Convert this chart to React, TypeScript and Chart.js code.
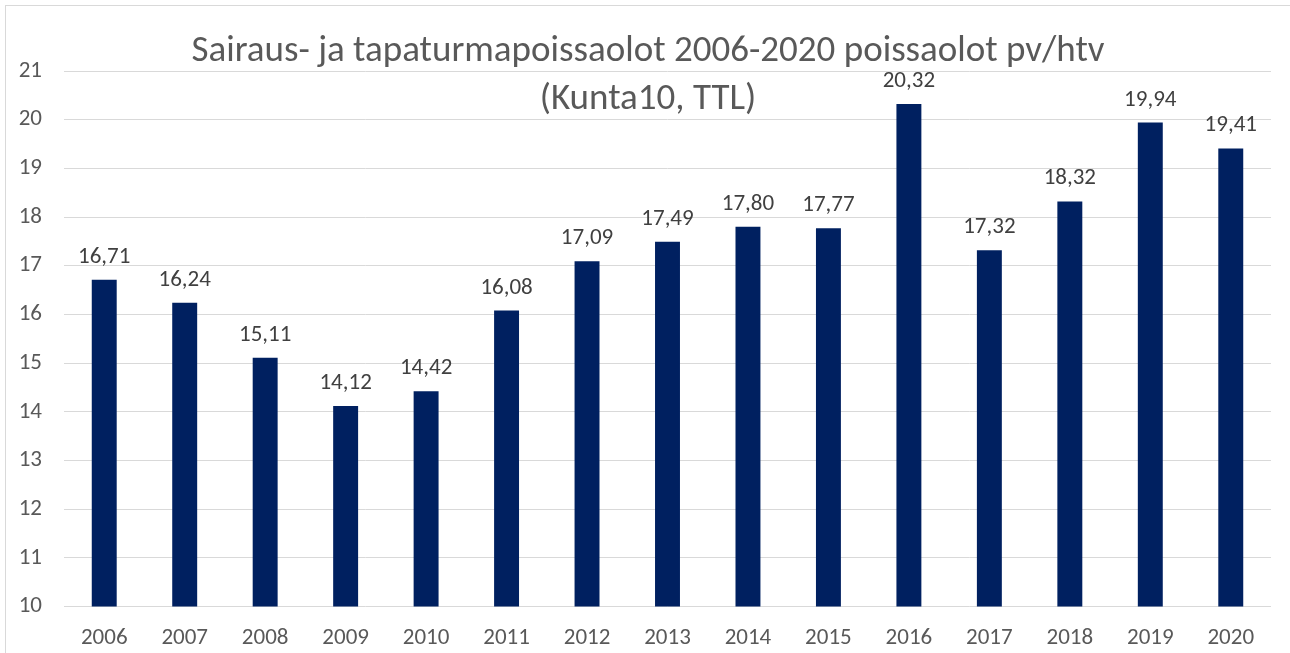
import React, { useEffect, useRef } from "react";
import { Chart, registerables } from "chart.js";

Chart.register(...registerables);

const years = ["2006", "2007", "2008", "2009", "2010", "2011", "2012", "2013", "2014", "2015", "2016", "2017", "2018", "2019", "2020"];
const absenceDays = [16.71, 16.24, 15.11, 14.12, 14.42, 16.08, 17.09, 17.49, 17.8, 17.77, 20.32, 17.32, 18.32, 19.94, 19.41];
const titleLines = ["Sairaus- ja tapaturmapoissaolot 2006-2020 poissaolot pv/htv", "(Kunta10, TTL)"];
const yMin = 10;
const yMax = 21;

const FONT = "Carlito, Lato, 'Open Sans', sans-serif";

const titlePlugin = {
  id: "excelTitle",
  afterDraw(chart: any) {
    const ctx = chart.ctx;
    ctx.save();
    ctx.fillStyle = "#595959";
    ctx.font = `300 37px ${FONT}`;
    ctx.textAlign = "center";
    ctx.textBaseline = "alphabetic";
    ctx.fillText(titleLines[0], 648, 61);
    ctx.fillText(titleLines[1], 648, 109);
    ctx.restore();
  },
};

const labelPlugin = {
  id: "valueLabels",
  afterDatasetsDraw(chart: any) {
    const ctx = chart.ctx;
    const meta = chart.getDatasetMeta(0);
    ctx.save();
    ctx.fillStyle = "#404040";
    ctx.font = `23px ${FONT}`;
    ctx.textAlign = "center";
    ctx.textBaseline = "alphabetic";
    meta.data.forEach((el: any, i: number) => {
      const v = chart.data.datasets[0].data[i] as number;
      ctx.fillText(v.toFixed(2).replace(".", ","), el.x, el.y - 17);
    });
    ctx.restore();
  },
};

export default function App() {
  const ref = useRef<HTMLCanvasElement | null>(null);

  useEffect(() => {
    if (!ref.current) return;
    const chart = new Chart(ref.current, {
      type: "bar",
      data: {
        labels: years,
        datasets: [
          {
            data: absenceDays,
            backgroundColor: "#002060",
            borderWidth: 0,
            barPercentage: 0.31,
            categoryPercentage: 1,
          },
        ],
      },
      options: {
        responsive: false,
        animation: false,
        devicePixelRatio: 1,
        layout: { padding: { left: 0, right: 19, top: 71, bottom: 0 } },
        plugins: {
          legend: { display: false },
          title: { display: false },
          tooltip: { enabled: false },
        },
        scales: {
          x: {
            grid: { display: false, drawTicks: false },
            border: { display: false },
            ticks: {
              color: "#595959",
              font: { family: FONT, size: 23 },
              padding: 18,
              maxRotation: 0,
            },
            afterFit(scale: any) {
              scale.height = 46.5;
            },
          },
          y: {
            min: yMin,
            max: yMax,
            grid: { color: "#d9d9d9", lineWidth: 1, drawTicks: false },
            border: { display: false },
            ticks: {
              stepSize: 1,
              color: "#595959",
              font: { family: FONT, size: 23 },
              padding: 22,
            },
            afterFit(scale: any) {
              scale.width = 64;
            },
          },
        },
      },
      plugins: [labelPlugin, titlePlugin],
    });
    return () => chart.destroy();
  }, []);

  return (
    <div style={{ position: "fixed", left: 0, top: 0, width: 1290, height: 653, background: "#ffffff", overflow: "hidden" }}>
      <div style={{ position: "absolute", left: 5, top: 5, width: 1400, height: 800, border: "1px solid #d9d9d9" }} />
      <canvas ref={ref} width={1290} height={653} style={{ position: "absolute", left: 0, top: 0 }} />
    </div>
  );
}
